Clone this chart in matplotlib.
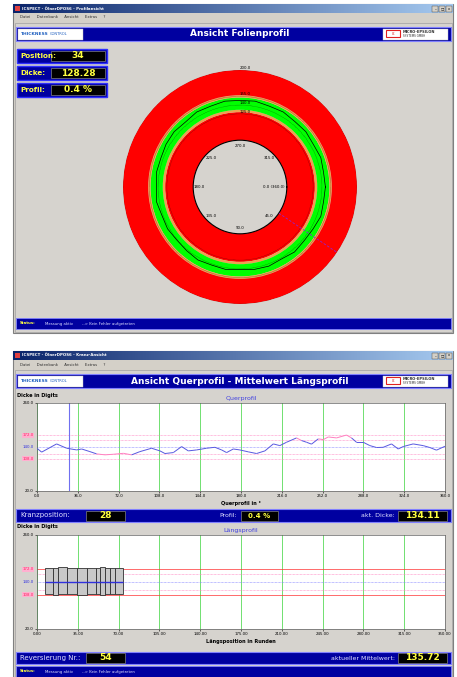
import numpy as np
import matplotlib
matplotlib.use("Agg")
import matplotlib.pyplot as plt
from matplotlib.patches import Rectangle
from matplotlib.colors import LinearSegmentedColormap
from matplotlib.collections import LineCollection

# ---------------- Daten oben: Folienprofil ----------------
position = 34
dicke = 128.28
profil_prozent = 0.4
folie_winkel = [0, 10, 20, 30, 40, 50, 60, 70, 80, 90, 100, 110, 120, 130, 140, 150, 160, 170,
                180, 190, 200, 210, 220, 230, 240, 250, 260, 270, 280, 290, 300, 310, 320, 330, 340, 350]
folie_dicke = [146, 145, 147, 144, 143, 145, 142, 144, 143, 141, 143, 142, 144, 142, 141, 143, 142, 145,
               143, 145, 144, 146, 147, 145, 148, 147, 149, 148, 149, 147, 148, 146, 147, 145, 147, 145]
# Farbringe (von, bis) in Digits
ring_grenzen = [80, 128, 132, 153, 157, 200]
ring_farben = ['#FF0000', '#F0A050', '#00FF00', '#F0A050', '#FF0000']
radial_ticks = [125, 140, 155, 200]
winkel_labels = [0, 45, 90, 135, 180, 225, 270, 315]

# ---------------- Daten unten: Querprofil ----------------
kranzposition = 28
akt_dicke = 134.11
quer_pos = [0, 4.1, 17.3, 26.2, 35.0, 39.4, 46.7, 52.6, 60.0, 67.3, 76.2, 83.5, 90.8, 101.1, 108.5,
            112.9, 120.3, 127.6, 133.5, 140.8, 149.6, 157.0, 162.9, 167.3, 173.2, 179.0, 186.4, 193.7,
            201.1, 208.5, 214.3, 220.2, 229.0, 233.4, 237.8, 242.2, 248.2, 252.6, 257.0, 264.3, 273.1,
            277.5, 281.9, 287.8, 293.7, 299.6, 305.5, 312.8, 318.7, 323.1, 331.9, 340.7, 346.6, 352.5, 360.0]
quer_dicke = [136.5, 126.0, 148.4, 136.6, 132.0, 134.6, 127.4, 121.2, 118.6, 120.2, 122.8, 118.6, 127.4,
              136.6, 129.4, 122.2, 124.8, 141.2, 129.4, 132.0, 136.6, 139.2, 132.0, 124.8, 134.6, 132.0,
              126.8, 122.2, 129.4, 148.4, 143.8, 153.0, 164.8, 157.6, 153.0, 147.8, 162.2, 160.2, 167.4,
              164.8, 172.6, 164.8, 153.0, 153.0, 143.8, 138.6, 139.2, 148.4, 134.6, 141.2, 148.4, 143.8,
              138.6, 131.4, 142.0]

# ---------------- Daten unten: Laengsprofil ----------------
reversierung = 54
mittelwert = 135.72
runde_start = [7.0, 14.0, 18.0, 25.5, 34.0, 43.0, 51.0, 54.0, 58.0, 62.5, 67.0]
runde_ende = [14.0, 18.0, 25.5, 34.0, 43.0, 51.0, 54.0, 58.0, 62.5, 67.0, 73.5]
runde_min = [109, 108, 109, 109, 108, 109, 109, 108, 109, 109, 109]
runde_max = [176, 177, 178, 176, 177, 176, 177, 178, 176, 177, 176]
runde_mittel = [141, 140, 141, 140, 140, 141, 140, 140, 141, 140, 140]

soll = 140
grenze_innen = [120, 160]
grenze_aussen = [108, 172]

W, H = 457, 677
GRAU = '#D4D0C8'
PANEL = '#D6D3CE'
NAVY = '#0000A0'
GELB = '#FFFF40'
PINK = '#FF80C0'
BLAU = '#5858E0'
GRUEN = '#70E070'

fig = plt.figure(figsize=(W / 100, H / 100), dpi=100)
fig.patch.set_facecolor('white')
bg = fig.add_axes([0, 0, 1, 1])
bg.axis('off')


def box(x, y, w, h, fc, ec='none', lw=0.6, z=1):
    bg.add_patch(Rectangle((x, y), w, h, facecolor=fc, edgecolor=ec, linewidth=lw, zorder=z))


def txt(x, y, s, size=4, color='black', weight='normal', ha='left', z=5):
    bg.text(x, y, s, fontsize=size, color=color, fontweight=weight, ha=ha, va='center', zorder=z)


def px_axes(x, y, w, h, **kw):
    return fig.add_axes([x / W, 1 - (y + h) / H, w / W, h / H], **kw)


tb_cmap = LinearSegmentedColormap.from_list('tb', ['#0A246A', '#A6CAF0'])


def fenster(y0, y1, titel, kopf):
    box(13, y0, 440, y1 - y0, GRAU, ec='#808080', lw=0.8)
    bg.imshow(np.linspace(0, 1, 256)[None, :], cmap=tb_cmap, extent=[13, 453, y0 + 9, y0], aspect='auto', zorder=2)
    box(15, y0 + 2, 5, 5, '#E04040', z=3)
    txt(22, y0 + 4.5, titel, size=2.8, color='white', weight='bold')
    for i, s in enumerate(['_', '□', 'x']):
        box(432 + i * 7, y0 + 1.5, 6, 6, GRAU, ec='#404040', lw=0.3, z=3)
        txt(435 + i * 7, y0 + 4.5, s, size=2.5, ha='center')
    txt(20, y0 + 13.5, 'Datei     Datenbank     Ansicht     Extras     ?', size=2.8, color='#303030')
    box(15, y0 + 19, 437, y1 - y0 - 20, PANEL, ec='#A0A0A0', lw=0.5)
    # Kopfzeile
    hy = y0 + 23
    box(16, hy, 435, 14, NAVY, ec='#8080FF', lw=0.8)
    box(18, hy + 1.5, 65, 11, 'white', ec='#C0C0C0', lw=0.3, z=2)
    bg.text(21, hy + 7, 'THICKNESS', fontsize=3.2, color='#2060C0', fontweight='bold', va='center', zorder=5)
    bg.text(50, hy + 7, 'CONTROL', fontsize=2.6, color='#2060C0', va='center', zorder=5)
    box(383, hy + 1.5, 65, 11, 'white', ec='#C0C0C0', lw=0.3, z=2)
    box(386, hy + 3, 14, 7, 'white', ec='#E02020', lw=0.8, z=3)
    txt(393, hy + 6.5, 'ε', size=3.5, color='#E02020', ha='center')
    txt(403, hy + 5, 'MICRO-EPSILON', size=2.6, color='#303030', weight='bold')
    txt(403, hy + 9, 'SYSTEMS GMBH', size=2.0, color='#303030')
    txt(240, hy + 7, kopf, size=6.5, color='white', weight='bold', ha='center')


def wertfeld(x, y, w, s, size=6.5):
    box(x, y, w, 10, 'black', ec='#808080', lw=0.5, z=3)
    txt(x + w / 2, y + 5, s, size=size, color=GELB, weight='bold', ha='center')


def statuszeile(y):
    box(16, y, 435, 11, NAVY, ec='#8080FF', lw=0.6)
    txt(20, y + 5.5, 'Status:', size=2.8, color=GELB, weight='bold')
    txt(45, y + 5.5, 'Messung aktiv', size=2.8, color='#E0E0FF')
    txt(82, y + 5.5, '--> Kein Fehler aufgetreten', size=2.8, color='#E0E0FF')


# ================= oberes Fenster =================
fenster(4, 333, 'ICSPECT - ÖlnerDPOS6 - Profilansicht', 'Ansicht Folienprofil')
for yy, lab, val in [(49, 'Position:', f'{position}'), (66, 'Dicke:', f'{dicke:.2f}'),
                     (83, 'Profil:', f'{profil_prozent} %')]:
    box(17, yy, 90, 14, NAVY, ec='#3030FF', lw=1.0)
    txt(20, yy + 7, lab, size=5.2, color=GELB, weight='bold')
    wertfeld(51, yy + 2, 54, val)
statuszeile(318)

ax = px_axes(123, 70, 234, 234, projection='polar')
ax.set_facecolor(PANEL)
ax.set_theta_zero_location('E')
ax.set_theta_direction(-1)
for i, fc in enumerate(ring_farben):
    ax.bar(0, ring_grenzen[i + 1] - ring_grenzen[i], width=2 * np.pi, bottom=ring_grenzen[i],
           align='edge', color=fc, linewidth=0, zorder=1)
wk = np.deg2rad(folie_winkel + [360])
ax.plot(wk, folie_dicke + [folie_dicke[0]], color='black', lw=0.5, zorder=3)
ax.plot([np.deg2rad(position)] * 2, [ring_grenzen[0], ring_grenzen[-1]], color='#9020D0',
        lw=0.6, ls=(0, (3, 2)), zorder=3)
ax.set_ylim(ring_grenzen[0], ring_grenzen[-1])
ax.set_rorigin(0)
ax.set_rgrids(radial_ticks, labels=[f'{v:.1f}' for v in radial_ticks], angle=270, fontsize=2.8)
ax.yaxis.grid(True, color='black', lw=0.3, ls=':')
ax.set_thetagrids([])
ax.xaxis.grid(False)
for sp in ax.spines.values():
    sp.set_visible(False)
for a in winkel_labels:
    s = '0.0 (360.0)' if a == 0 else f'{a:.1f}'
    ha = 'right' if a == 0 else 'center'
    ax.text(np.deg2rad(a), 76 if a == 0 else 70, s, fontsize=2.8, ha=ha, va='center', zorder=4)

# ================= unteres Fenster =================
fenster(351, 677, 'ICSPECT - ÖlnerDPOS6 - Kranz-Ansicht', 'Ansicht Querprofil - Mittelwert Längsprofil')


def diagramm(ax, xmax, xticks, xfmt, titel, xlab, rote_linien):
    ax.set_facecolor('white')
    ax.set_xlim(0, xmax)
    ax.set_ylim(20, 260)
    ax.set_xticks(xticks)
    ax.set_xticklabels([xfmt.format(v) for v in xticks])
    ax.set_yticks([20, 260])
    ax.set_yticklabels(['20.0', '260.0'])
    ax.tick_params(labelsize=2.8, length=1.5, width=0.4, pad=1)
    ax.grid(axis='x', color=GRUEN, lw=0.7)
    for sp in ax.spines.values():
        sp.set_linewidth(0.5)
        sp.set_color('#606060')
    ax.set_axisbelow(True)
    for g in grenze_innen:
        ax.axhline(g, color=PINK, lw=0.5, ls=(0, (1, 1)))
    for g in grenze_aussen:
        if rote_linien:
            ax.axhline(g, color='#FF3030', lw=0.5)
        else:
            ax.axhline(g, color=PINK, lw=0.5, ls=(0, (1, 1)))
    ax.axhline(soll, color='#8080FF', lw=0.5, ls=(0, (1, 1)))
    tr = ax.get_yaxis_transform()
    for v, c, fc in [(grenze_aussen[1], '#FF2060', '#FFB0D0'), (soll, '#3030E0', 'none'),
                     (grenze_aussen[0], '#FF2060', '#FFB0D0')]:
        ax.text(-0.008, v, f'{v:.1f}', transform=tr, fontsize=2.8, color=c, ha='right', va='center',
                bbox=dict(boxstyle='square,pad=0.15', fc=fc, ec='none'), clip_on=False)
    ax.set_title(titel, fontsize=4.5, color='#4040E0', pad=2)
    ax.set_xlabel(xlab, fontsize=3.6, fontweight='bold', labelpad=1.5)
    ax.text(-0.05, 1.09, 'Dicke in Digits', transform=ax.transAxes, fontsize=3.6,
            fontweight='bold', ha='left', va='center')


# Querprofil
aq = px_axes(37, 403, 408, 88)
diagramm(aq, 360, [0, 36, 72, 108, 144, 180, 216, 252, 288, 324, 360], '{:.1f}',
         'Querprofil', 'Querprofil in °', False)
aq.axvline(kranzposition, color='#7070F0', lw=0.8)
qx = np.array(quer_pos)
qy = np.array(quer_dicke)
pts = np.column_stack([qx, qy])
segs = np.stack([pts[:-1], pts[1:]], axis=1)
mitte = (qy[:-1] + qy[1:]) / 2
farben = [PINK if (m < grenze_innen[0] + 2 or m > grenze_innen[1]) else BLAU for m in mitte]
aq.add_collection(LineCollection(segs, colors=farben, linewidths=0.7, zorder=4))

# Infozeile Kranzposition
box(16, 509, 435, 13, NAVY, ec='#8080FF', lw=0.8)
txt(20, 515.5, 'Kranzposition:', size=5, color='#E0E0FF')
wertfeld(86, 510.5, 39, f'{kranzposition}')
txt(237, 515.5, 'Profil:', size=4.5, color='#E0E0FF', ha='right')
wertfeld(241, 510.5, 37, f'{profil_prozent} %', size=5)
txt(395, 515.5, 'akt. Dicke:', size=4.5, color='#E0E0FF', ha='right')
wertfeld(398, 510.5, 49, f'{akt_dicke:.2f}')

# Laengsprofil
al = px_axes(37, 535, 408, 94)
diagramm(al, 350, [0, 35, 70, 105, 140, 175, 210, 245, 280, 315, 350], '{:.2f}',
         'Längsprofil', 'Längsposition in Runden', True)
rs = np.array(runde_start)
re_ = np.array(runde_ende)
al.bar(rs, np.array(runde_max) - np.array(runde_min), width=re_ - rs, bottom=runde_min,
       align='edge', color='#C8C8C8', edgecolor='#303030', linewidth=0.6, zorder=3)
al.hlines(runde_mittel, rs, re_, color='#3030E0', lw=1.0, zorder=4)

# Infozeile Reversierung
box(16, 652, 435, 12, NAVY, ec='#8080FF', lw=0.8)
txt(20, 658, 'Reversierung Nr.:', size=5, color='#E0E0FF')
wertfeld(86, 653, 39, f'{reversierung}')
txt(395, 658, 'aktueller Mittelwert:', size=4.5, color='#E0E0FF', ha='right')
wertfeld(398, 653, 49, f'{mittelwert:.2f}')
statuszeile(666)

bg.set_xlim(0, W)
bg.set_ylim(H, 0)
fig.savefig('out.png', dpi=100, facecolor='white')
